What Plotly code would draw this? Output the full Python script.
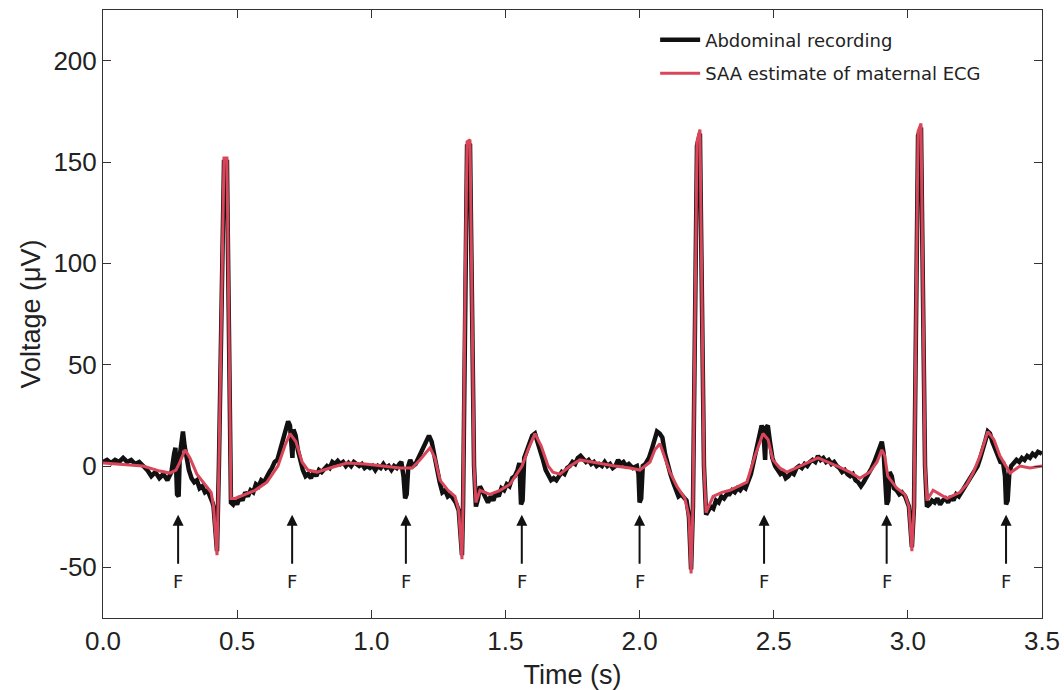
import plotly.graph_objects as go

# ---------------- data ----------------
# SAA estimate of maternal ECG (red)
t_red = [0.0, 0.063, 0.149, 0.212, 0.25, 0.272, 0.287, 0.306, 0.324, 0.350, 0.380, 0.403, 0.412, 0.425,
         0.432, 0.444, 0.451, 0.462, 0.470, 0.477, 0.492, 0.529, 0.567, 0.611, 0.652, 0.678, 0.697, 0.719,
         0.742, 0.764, 0.798, 0.846, 0.909, 0.977, 1.051, 1.107, 1.152, 1.181, 1.219, 1.237, 1.256, 1.286,
         1.312, 1.326, 1.338, 1.342, 1.349, 1.357, 1.368, 1.375, 1.383, 1.390, 1.405, 1.442, 1.480, 1.517,
         1.562, 1.584, 1.610, 1.633, 1.659, 1.677, 1.703, 1.741, 1.778, 1.823, 1.864, 1.908, 1.964, 2.001,
         2.039, 2.057, 2.076, 2.091, 2.113, 2.139, 2.169, 2.184, 2.192, 2.199, 2.207, 2.214, 2.225, 2.233,
         2.240, 2.248, 2.274, 2.307, 2.337, 2.400, 2.430, 2.460, 2.479, 2.497, 2.523, 2.549, 2.598, 2.665,
         2.736, 2.784, 2.821, 2.858, 2.885, 2.903, 2.914, 2.925, 2.959, 2.989, 3.004, 3.015, 3.023, 3.030,
         3.038, 3.049, 3.056, 3.064, 3.071, 3.094, 3.120, 3.146, 3.194, 3.220, 3.243, 3.269, 3.298, 3.321,
         3.343, 3.381, 3.418, 3.455, 3.5]
v_red = [1.5, 1, 0, -2.5, -3.5, -2, 2, 8, 4, -4, -9, -13, -20, -44,
         0, 100, 152, 152, 60, -16, -16, -14, -12, -8, 0, 10, 16, 12,
         2, -2, -3, -1, 1.5, 1, 0, -1, -1, 3, 9, 4, -7, -12,
         -15, -22, -46, -20, 80, 160, 161, 80, 0, -18, -12, -14, -12, -9,
         0, 8, 16, 10, 0, -3, -4, 0, 3, 2, 1, 0, -1, -2,
         2, 8, 11, 5, -3, -10, -16, -25, -53, -20, 80, 160, 166, 80,
         0, -23, -15, -13, -12, -8, 5, 16, 13, 3, -1, -3, 0, 4,
         0, -3, -6, -3, 2, 8, 5, -5, -11, -14, -20, -42, -20, 80,
         165, 169, 80, 0, -17, -12, -14, -16, -13, -9, -3.5, 5, 17, 13,
         5, -3.5, 0, -1, 0]

# Abdominal recording (black)
t_blk = [0.000, 0.015, 0.030, 0.045, 0.060, 0.075, 0.090, 0.105, 0.120, 0.135, 0.150, 0.165, 0.180, 0.195,
         0.210, 0.225, 0.240, 0.255, 0.265, 0.270, 0.276, 0.282, 0.286, 0.292, 0.298, 0.304, 0.312, 0.320,
         0.330, 0.340, 0.350, 0.360, 0.370, 0.380, 0.390, 0.400, 0.408, 0.412, 0.425, 0.432, 0.444, 0.451,
         0.462, 0.470, 0.477, 0.485, 0.492, 0.500, 0.510, 0.520, 0.530, 0.540, 0.550, 0.560, 0.570, 0.580,
         0.590, 0.600, 0.610, 0.620, 0.630, 0.640, 0.650, 0.660, 0.670, 0.680, 0.690, 0.697, 0.702, 0.706,
         0.710, 0.718, 0.726, 0.735, 0.745, 0.755, 0.765, 0.775, 0.785, 0.795, 0.805, 0.815, 0.825, 0.835,
         0.845, 0.855, 0.865, 0.875, 0.885, 0.895, 0.905, 0.915, 0.925, 0.935, 0.945, 0.955, 0.965, 0.975,
         0.985, 0.995, 1.005, 1.015, 1.025, 1.035, 1.045, 1.055, 1.065, 1.075, 1.085, 1.095, 1.105, 1.112,
         1.120, 1.126, 1.132, 1.138, 1.145, 1.155, 1.165, 1.175, 1.185, 1.195, 1.205, 1.215, 1.225, 1.235,
         1.245, 1.255, 1.265, 1.275, 1.285, 1.295, 1.305, 1.315, 1.326, 1.338, 1.342, 1.349, 1.357, 1.368,
         1.375, 1.383, 1.390, 1.398, 1.405, 1.415, 1.425, 1.435, 1.445, 1.455, 1.465, 1.475, 1.485,
         1.495, 1.505, 1.515, 1.525, 1.535, 1.545, 1.552, 1.558, 1.564, 1.570, 1.580, 1.590, 1.600, 1.610,
         1.620, 1.630, 1.640, 1.650, 1.660, 1.670, 1.680, 1.690, 1.700, 1.710, 1.720, 1.730, 1.740, 1.750,
         1.760, 1.770, 1.780, 1.790, 1.800, 1.810, 1.820, 1.830, 1.840, 1.850, 1.860, 1.870, 1.880, 1.890,
         1.900, 1.910, 1.920, 1.930, 1.940, 1.950, 1.960, 1.975, 1.990, 1.996, 2.000, 2.006, 2.012, 2.022,
         2.035, 2.045, 2.055, 2.065, 2.075, 2.085, 2.095, 2.105, 2.115, 2.125, 2.135, 2.145, 2.155, 2.165,
         2.175, 2.184, 2.192, 2.199, 2.207, 2.214, 2.225, 2.233, 2.240, 2.248, 2.255, 2.265, 2.275, 2.285,
         2.295, 2.305, 2.315, 2.325, 2.335, 2.345, 2.355, 2.365, 2.375, 2.385, 2.395, 2.405, 2.415, 2.425,
         2.435, 2.445, 2.455, 2.461, 2.464, 2.468, 2.472, 2.478, 2.486, 2.495, 2.505, 2.515, 2.525, 2.535,
         2.545, 2.555, 2.565, 2.575, 2.585, 2.595, 2.605, 2.615, 2.625, 2.635, 2.645, 2.655, 2.665, 2.675,
         2.685, 2.695, 2.705, 2.715, 2.725, 2.735, 2.745, 2.755, 2.765, 2.775, 2.785, 2.795, 2.805, 2.815,
         2.825, 2.835, 2.845, 2.855, 2.865, 2.875, 2.885, 2.895, 2.903, 2.910, 2.916, 2.921, 2.927, 2.932,
         2.940, 2.948, 2.958, 2.968, 2.978, 2.990, 3.004, 3.015, 3.023, 3.030, 3.038, 3.049, 3.056, 3.064,
         3.071, 3.080, 3.090, 3.100, 3.110, 3.120, 3.130, 3.140, 3.150, 3.160, 3.170, 3.180, 3.190, 3.200,
         3.210, 3.220, 3.230, 3.240, 3.250, 3.260, 3.270, 3.280, 3.290, 3.298, 3.306, 3.315, 3.325, 3.335,
         3.345, 3.355, 3.362, 3.366, 3.372, 3.378, 3.385, 3.395, 3.405, 3.415, 3.425, 3.435, 3.445, 3.455,
         3.465, 3.475, 3.485, 3.500]
v_blk = [2, 3, 1.5, 3, 2, 4, 2, 3, 1, 2, 0, -2, -5, -3,
         -6, -4, -7, -3, 6, 9, -14, -15, 5, 14, 17, 10, 2, -2,
         -6, -8, -7, -11, -10, -13, -12, -15, -18, -20, -42, 0, 100, 150,
         150, 60, -18, -19, -17, -19, -15, -17, -13, -15, -12, -13, -9, -10,
         -7, -8, -5, -3, -1, 2, 3, 8, 12, 17, 22, 20, 5, 4,
         18, 15, 8, 2, -2, -5, -4, -6, -3, -5, -2, -3, -1, 0,
         -1, 2, 1, 2.5, 1, 2, 0, 1.5, 0, 2, 1, 0, 1, -1,
         0, -1, 0, -2, 0, -1, 1, -1, 0, -2, 0, -1, 1, 2,
         -5, -16, -14, 0, 3, 0, 1, 4, 6, 10, 12, 15, 12, 5,
         -2, -8, -13, -12, -15, -14, -16, -18, -22, -44, -20, 80, 158, 159,
         80, 0, -20, -16, -10, -13, -16, -18, -15, -17, -13, -15, -11,
         -12, -9, -10, -6, -5, -2, 1.5, -19, -17, 4, 8, 12, 15, 16,
         12, 8, 3, -2, -5, -7, -6, -7, -5, -3, -4, -1, 0, 2,
         1, 4, 5, 3, 2, 3, 1, 2, 0, 1, 0, 2, 0, 1,
         -1, 0, 3, 1, 2, 0, 1, -1, 0, -4, -18, -16, 0, 1,
         4, 8, 12, 17, 16, 14, 6, 0, -4, -8, -12, -15, -14, -16,
         -17, -25, -51, -20, 80, 158, 164, 80, 0, -24, -22, -20, -21, -17,
         -18, -15, -16, -14, -14, -12, -13, -11, -12, -10, -11, -8, -4, 2,
         8, 14, 20, 18, 4, 3, 19, 20, 12, 4, 0, -2, -4, -3,
         -6, -5, -3, -4, -1, 0, -1, 1, 0, 2, 3, 2, 5, 3,
         4, 2, 3, 1, 2, 0, -1, -3, -2, -4, -5, -4, -7, -8,
         -10, -8, -6, -3, -1, 2, 6, 10, 12, 6, -5, -19, -17, -3,
         -5, -11, -12, -14, -13, -15, -20, -40, -20, 80, 163, 167, 80, 0,
         -20, -19, -17, -18, -16, -19, -17, -16, -18, -15, -17, -14, -15, -13,
         -11, -9, -7, -5, -3, 0, 4, 8, 13, 17, 16, 12, 9, 5,
         2, 1.5, -5, -19, -17, -4, 0, 1.5, 3, 2, 4, 3, 5, 4,
         6, 5, 7, 6]

# fetal heartbeat markers
f_times = [0.28, 0.705, 1.129, 1.561, 2.0, 2.464, 2.921, 3.366]
f_label = "F"
arrow_tip = -24
arrow_tail = -49
label_y = -57

x_ticks = [0.0, 0.5, 1.0, 1.5, 2.0, 2.5, 3.0, 3.5]
y_ticks = [-50, 0, 50, 100, 150, 200]

RED = "#d9465a"

fig = go.Figure()
fig.add_trace(go.Scatter(x=t_blk, y=v_blk, mode="lines", name="Abdominal recording",
                         line=dict(color="#111111", width=4.5), legend="legend"))
fig.add_trace(go.Scatter(x=t_red, y=v_red, mode="lines", name="SAA estimate of maternal ECG",
                         line=dict(color=RED, width=3), legend="legend2"))

ann = []
for ft in f_times:
    ann.append(dict(x=ft, y=arrow_tip, ax=ft, ay=arrow_tail, xref="x", yref="y",
                    axref="x", ayref="y", text="", showarrow=True,
                    arrowhead=2, arrowsize=1.1, arrowwidth=2, arrowcolor="#111111"))
    ann.append(dict(x=ft, y=label_y, xref="x", yref="y", text=f_label, showarrow=False,
                    font=dict(family="DejaVu Sans", size=18, color="#222222")))

leg_common = dict(xanchor="left", yanchor="top",
                  font=dict(family="DejaVu Sans", size=18, color="#222222"),
                  bgcolor="rgba(0,0,0,0)", itemwidth=40)
fig.update_layout(
    width=1064, height=690,
    margin=dict(l=103, r=22, t=10, b=72, autoexpand=False),
    paper_bgcolor="white", plot_bgcolor="white",
    showlegend=True,
    legend=dict(x=0.588, y=0.981, **leg_common),
    legend2=dict(x=0.588, y=0.926, **leg_common),
    annotations=ann,
)
fig.update_xaxes(range=[0, 3.5], tickvals=x_ticks, ticktext=[f"{v:.1f}" for v in x_ticks],
                 ticks="inside", ticklen=8, tickcolor="#333333", showgrid=False, zeroline=False,
                 showline=True, linecolor="#333333", linewidth=1, mirror="ticks", automargin=False,
                 tickfont=dict(family="Liberation Sans", size=26, color="#222222"),
                 title=dict(text="Time (s)", font=dict(family="Liberation Sans", size=27, color="#222222"),
                            standoff=12))
fig.update_yaxes(range=[-75, 225], tickvals=y_ticks, ticktext=[str(v) for v in y_ticks],
                 ticks="inside", ticklen=8, tickcolor="#333333", showgrid=False, zeroline=False,
                 showline=True, linecolor="#333333", linewidth=1, mirror="ticks", automargin=False,
                 tickfont=dict(family="Liberation Sans", size=26, color="#222222"),
                 title=dict(text="Voltage (μV)", font=dict(family="Liberation Sans", size=27, color="#222222"),
                            standoff=4))

fig.write_html("out.html")
